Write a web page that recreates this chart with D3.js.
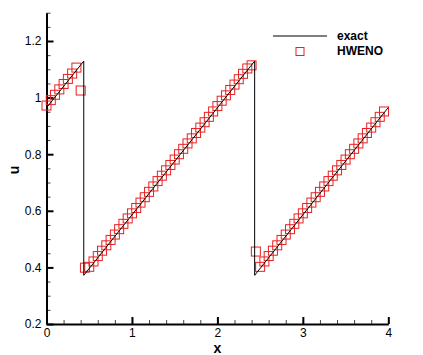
<!DOCTYPE html>
<html>
<head>
<meta charset="utf-8">
<script src="https://cdn.jsdelivr.net/npm/d3@7"></script>
<style>
  body { margin: 0; background: #fff; }
  svg { display: block; font-family: "Liberation Sans", Arial, sans-serif; }
</style>
</head>
<body>
<svg id="chart" width="423" height="355"></svg>
<script>
"use strict";

// exact solution (sawtooth with two jumps)
const exactX = [0, 0.436, 0.436, 2.436, 2.436, 4];
const exactU = [0.964, 1.129, 0.372, 1.129, 0.372, 0.965];

// HWENO points, dx = 0.05
const hwenoX = d3.range(80).map(i => +(i * 0.05).toFixed(2));
const hwenoU = [
  0.972, 0.991, 1.010, 1.029, 1.048, 1.066, 1.085, 1.106, 1.025,
  0.399, 0.402, 0.421, 0.440, 0.459, 0.478, 0.497, 0.516, 0.535, 0.554, 0.573,
  0.591, 0.610, 0.629, 0.648, 0.667, 0.686, 0.705, 0.724, 0.743, 0.762,
  0.781, 0.800, 0.819, 0.838, 0.856, 0.875, 0.894, 0.913, 0.932, 0.951,
  0.970, 0.989, 1.008, 1.027, 1.046, 1.065, 1.084, 1.103, 1.114,
  0.456, 0.402, 0.421, 0.440, 0.459, 0.478, 0.497, 0.516, 0.535, 0.554, 0.573,
  0.591, 0.610, 0.629, 0.648, 0.667, 0.686, 0.705, 0.724, 0.743, 0.762,
  0.781, 0.800, 0.819, 0.838, 0.856, 0.875, 0.894, 0.913, 0.932, 0.951
];

const xTicks = [0, 1, 2, 3, 4];
const yTicks = [0.2, 0.4, 0.6, 0.8, 1, 1.2];

const svg = d3.select("#chart");
const x = d3.scaleLinear().domain([0, 4]).range([46.5, 388.3]);
const y = d3.scaleLinear().domain([0.2, 1.3]).range([324, 12.7]);

// minor ticks
svg.append("g")
  .attr("transform", `translate(0,${y(0.2)})`)
  .call(d3.axisBottom(x).tickValues(d3.range(0, 4.01, 0.2)).tickSize(-4).tickSizeOuter(0).tickFormat(""))
  .call(g => g.select(".domain").remove())
  .call(g => g.selectAll("line").attr("stroke", "#444"));
svg.append("g")
  .attr("transform", `translate(${x(0)},0)`)
  .call(d3.axisLeft(y).tickValues(d3.range(0.2, 1.31, 0.05)).tickSize(-4).tickSizeOuter(0).tickFormat(""))
  .call(g => g.select(".domain").remove())
  .call(g => g.selectAll("line").attr("stroke", "#444"));

// major axes
let gx = svg.append("g")
  .attr("transform", `translate(0,${y(0.2)})`)
  .call(d3.axisBottom(x).tickValues(xTicks).tickSize(-7).tickSizeOuter(0).tickPadding(4).tickFormat(d3.format("d")));
let gy = svg.append("g")
  .attr("transform", `translate(${x(0)},0)`)
  .call(d3.axisLeft(y).tickValues(yTicks).tickSize(-7).tickSizeOuter(0).tickPadding(5).tickFormat(d => String(+d.toFixed(1))));

[gx, gy].forEach(g => {
  g.select(".domain").attr("stroke", "#000").attr("stroke-width", 2);
  g.selectAll(".tick line").attr("stroke", "#000").attr("stroke-width", 2);
  g.selectAll(".tick text").attr("fill", "#000").attr("font-size", 12)
    .attr("font-family", "Liberation Sans, Arial, sans-serif");
});

// HWENO markers
svg.append("g")
  .selectAll("rect")
  .data(hwenoX.map((d, i) => [d, hwenoU[i]]))
  .join("rect")
  .attr("x", d => x(d[0]) - 4.5)
  .attr("y", d => y(d[1]) - 4.5)
  .attr("width", 9)
  .attr("height", 9)
  .attr("fill", "none")
  .attr("stroke", "#e82020")
  .attr("stroke-width", 1);

// exact line
const line = d3.line().x(d => x(d[0])).y(d => y(d[1]));
svg.append("path")
  .datum(exactX.map((d, i) => [d, exactU[i]]))
  .attr("d", line)
  .attr("fill", "none")
  .attr("stroke", "#000")
  .attr("stroke-width", 1);

// axis titles
svg.append("text")
  .attr("x", x(2)).attr("y", 352.5)
  .attr("text-anchor", "middle")
  .attr("font-size", 14).attr("font-weight", "bold")
  .text("x");
svg.append("text")
  .attr("transform", "translate(19,170) rotate(-90)")
  .attr("text-anchor", "middle")
  .attr("font-size", 14).attr("font-weight", "bold")
  .text("u");

// legend
const lg = svg.append("g").attr("font-size", 12).attr("font-weight", "bold");
lg.append("line")
  .attr("x1", 273).attr("x2", 327).attr("y1", 36).attr("y2", 36)
  .attr("stroke", "#000").attr("stroke-width", 1);
lg.append("text").attr("x", 337).attr("y", 40).text("exact");
lg.append("rect")
  .attr("x", 296).attr("y", 47.5).attr("width", 8).attr("height", 8)
  .attr("fill", "none").attr("stroke", "#e82020").attr("stroke-width", 1);
lg.append("text").attr("x", 337).attr("y", 55).text("HWENO");
</script>
</body>
</html>
